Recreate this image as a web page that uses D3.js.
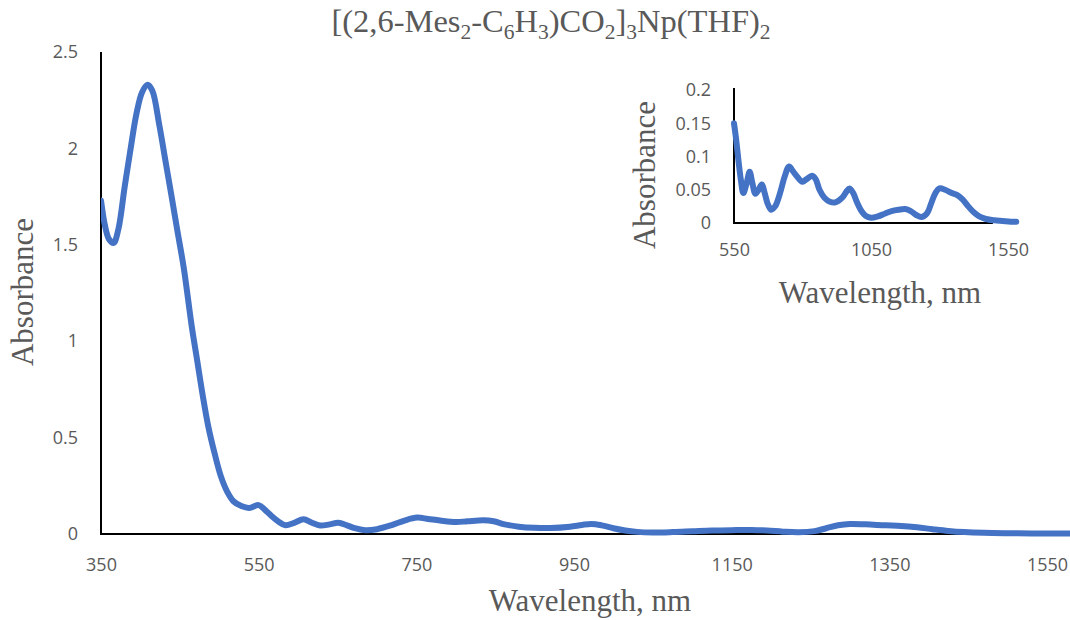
<!DOCTYPE html>
<html>
<head>
<meta charset="utf-8">
<script src="https://cdn.jsdelivr.net/npm/d3@7"></script>
<style>
  html, body { margin: 0; padding: 0; background: #fff; }
  svg { display: block; }
</style>
</head>
<body>
<svg id="chart" width="1070" height="620"></svg>
<script>
// ---- Data ----
const wavelength = [350,355,360,366,372,380,388,395,402,409,415,424,432,440,447,455,465,472,479,486,494,502,510,518,528,538,550,558,566,575,584,595,607,617,628,640,651,662,672,685,700,718,735,751,765,780,800,815,835,848,862,880,900,920,945,960,972,985,1000,1015,1030,1050,1075,1100,1125,1150,1175,1195,1215,1235,1255,1270,1285,1300,1320,1345,1365,1385,1405,1425,1445,1470,1500,1530,1560,1580];
const absorbance = [1.73,1.60,1.53,1.51,1.58,1.80,2.01,2.18,2.29,2.33,2.30,2.12,1.93,1.74,1.57,1.38,1.08,0.90,0.72,0.56,0.42,0.30,0.22,0.17,0.145,0.135,0.150,0.125,0.095,0.065,0.045,0.058,0.077,0.060,0.044,0.050,0.058,0.045,0.030,0.020,0.025,0.045,0.070,0.085,0.078,0.070,0.062,0.066,0.071,0.066,0.050,0.038,0.032,0.031,0.038,0.047,0.052,0.045,0.030,0.018,0.011,0.008,0.010,0.014,0.018,0.020,0.021,0.018,0.012,0.009,0.015,0.030,0.045,0.052,0.050,0.045,0.042,0.035,0.025,0.016,0.010,0.006,0.004,0.003,0.002,0.002];

const mainXTicks = [350,550,750,950,1150,1350,1550];
const mainYTicks = [0,0.5,1,1.5,2,2.5];
const insetXTicks = [550,1050,1550];
const insetYTicks = [0,0.05,0.1,0.15,0.2];
const insetStart = 550;      // inset shows the spectrum from 550 nm
const insetAxisEnd = 1495;   // inset x axis line ends here

const titleParts = [
  {t:"[(2,6-Mes", sub:false},{t:"2", sub:true},{t:"-C", sub:false},{t:"6", sub:true},
  {t:"H", sub:false},{t:"3", sub:true},{t:")CO", sub:false},{t:"2", sub:true},
  {t:"]", sub:false},{t:"3", sub:true},{t:"Np(THF)", sub:false},{t:"2", sub:true}
];
const xTitle = "Wavelength, nm";
const yTitle = "Absorbance";

const data = wavelength.map((w,i)=>({w, a:absorbance[i]}));

// ---- Styles ----
const lineColor = "#4472C4";
const textColor = "#595959";
const tickFont = "'Open Sans', sans-serif";
const tickSize = 18;
const serif = "'Liberation Serif', 'Times New Roman', serif";

const svg = d3.select("#chart");

// ---- Main chart ----
const x = d3.scaleLinear().domain([350,1550]).range([101,1047]);
const y = d3.scaleLinear().domain([0,2.5]).range([534,52]);

svg.append("line").attr("x1",x(350)).attr("x2",x(350)).attr("y1",y(2.5)).attr("y2",y(0))
  .attr("stroke","#000").attr("stroke-width",2);
svg.append("line").attr("x1",x(350)-1).attr("x2",1070).attr("y1",y(0)).attr("y2",y(0))
  .attr("stroke","#000").attr("stroke-width",2);

const fmt = d3.format("~g");

const gx = svg.append("g").attr("transform",`translate(0,${y(0)})`)
  .call(d3.axisBottom(x).tickValues(mainXTicks).tickFormat(fmt).tickSize(0).tickPadding(24));
const gy = svg.append("g").attr("transform",`translate(${x(350)},0)`)
  .call(d3.axisLeft(y).tickValues(mainYTicks).tickFormat(fmt).tickSize(0).tickPadding(23));
[gx,gy].forEach(g=>{
  g.select(".domain").remove();
  g.selectAll("text").attr("font-family",tickFont).attr("font-size",tickSize).attr("fill",textColor);
});

svg.append("clipPath").attr("id","mainClip").append("rect")
  .attr("x",x(350)).attr("y",0).attr("width",1070-x(350)).attr("height",y(0)+10);

const line = d3.line().x(d=>x(d.w)).y(d=>y(d.a)).curve(d3.curveCatmullRom.alpha(0.5));
svg.append("path").datum(data).attr("d",line).attr("fill","none")
  .attr("stroke",lineColor).attr("stroke-width",6).attr("stroke-linejoin","round").attr("stroke-linecap","round")
  .attr("clip-path","url(#mainClip)");

// Title with subscripts
const title = svg.append("text").attr("x",551).attr("y",32).attr("text-anchor","middle")
  .attr("font-family",serif).attr("font-size",32.5).attr("fill",textColor);
titleParts.forEach((p,i)=>{
  const prev = i>0 ? titleParts[i-1] : null;
  let dy = 0;
  if (p.sub && !(prev && prev.sub)) dy = 7;
  if (!p.sub && prev && prev.sub) dy = -7;
  title.append("tspan").text(p.t).attr("font-size", p.sub?21.5:32.5).attr("dy", dy);
});

// Axis titles
svg.append("text").attr("x",590).attr("y",611).attr("text-anchor","middle")
  .attr("font-family",serif).attr("font-size",31).attr("fill",textColor).text(xTitle);
svg.append("text").attr("transform","translate(33,292) rotate(-90)").attr("text-anchor","middle")
  .attr("font-family",serif).attr("font-size",31).attr("fill",textColor).text(yTitle);

// ---- Inset ----
const xi = d3.scaleLinear().domain([550,1550]).range([734,1008]);
const yi = d3.scaleLinear().domain([0,0.2]).range([223,90]);

svg.append("line").attr("x1",xi(550)).attr("x2",xi(550)).attr("y1",yi(0.2)-2).attr("y2",yi(0))
  .attr("stroke","#000").attr("stroke-width",2);
svg.append("line").attr("x1",xi(550)-1).attr("x2",xi(insetAxisEnd)).attr("y1",yi(0)).attr("y2",yi(0))
  .attr("stroke","#000").attr("stroke-width",2);

const gxi = svg.append("g").attr("transform",`translate(0,${yi(0)})`)
  .call(d3.axisBottom(xi).tickValues(insetXTicks).tickFormat(fmt).tickSize(0).tickPadding(20));
const gyi = svg.append("g").attr("transform",`translate(${xi(550)},0)`)
  .call(d3.axisLeft(yi).tickValues(insetYTicks).tickFormat(fmt).tickSize(0).tickPadding(23));
[gxi,gyi].forEach(g=>{
  g.select(".domain").remove();
  g.selectAll("text").attr("font-family",tickFont).attr("font-size",tickSize).attr("fill",textColor);
});

const insetData = data.filter(d=>d.w>=insetStart);
const lineI = d3.line().x(d=>xi(d.w)).y(d=>yi(d.a)).curve(d3.curveCatmullRom.alpha(0.5));
svg.append("path").datum(insetData).attr("d",lineI).attr("fill","none")
  .attr("stroke",lineColor).attr("stroke-width",6).attr("stroke-linejoin","round").attr("stroke-linecap","round");

svg.append("text").attr("x",880).attr("y",303).attr("text-anchor","middle")
  .attr("font-family",serif).attr("font-size",31).attr("fill",textColor).text(xTitle);
svg.append("text").attr("transform","translate(655,175) rotate(-90)").attr("text-anchor","middle")
  .attr("font-family",serif).attr("font-size",31).attr("fill",textColor).text(yTitle);
</script>
</body>
</html>
